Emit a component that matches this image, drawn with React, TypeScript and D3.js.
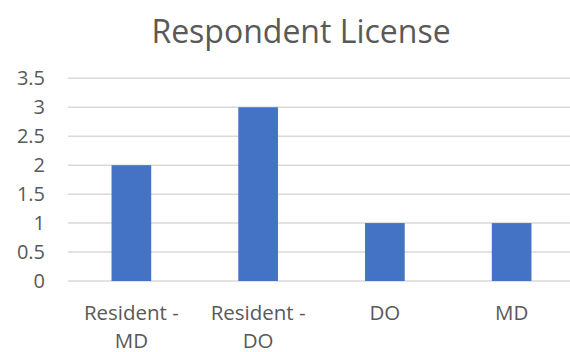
import React from "react";
import * as d3 from "d3";

const categories: string[][] = [["Resident -", "MD"], ["Resident -", "DO"], ["DO"], ["MD"]];
const values: number[] = [2, 3, 1, 1];
const yTicks: number[] = [0, 0.5, 1, 1.5, 2, 2.5, 3, 3.5];
const title = "Respondent License";

const W = 570;
const H = 352;
const FONT = "'Open Sans', sans-serif";
const TEXT = "#595959";

export default function App() {
  const keys = categories.map((c) => c.join(" "));
  const x = d3.scaleBand<string>().domain(keys).range([68, 575]).paddingInner(0.687).paddingOuter(0.3435);
  const y = d3.scaleLinear().domain([0, 3.5]).range([281, 78.3]);
  return (
    <svg width={W} height={H} style={{ position: "absolute", left: 0, top: 0, background: "#fff" }}>
      <text x={301} y={43} textAnchor="middle" fontFamily={FONT} fontSize={32} fill={TEXT}>
        {title}
      </text>
      {yTicks.map((t) => (
        <g key={t}>
          <line x1={68} x2={570} y1={y(t)} y2={y(t)} stroke="#d9d9d9" strokeWidth={1.5} />
          <text x={45} y={y(t)} dy="0.35em" textAnchor="end" fontFamily={FONT} fontSize={20} fill={TEXT}>
            {t}
          </text>
        </g>
      ))}
      {values.map((v, i) => (
        <rect key={i} x={x(keys[i])} width={x.bandwidth()} y={y(v)} height={y(0) - y(v)} fill="#4472C4" />
      ))}
      {categories.map((lines, i) => (
        <text key={i} textAnchor="middle" fontFamily={FONT} fontSize={20.5} fill={TEXT}>
          {lines.map((l, j) => (
            <tspan key={j} x={(x(keys[i]) as number) + x.bandwidth() / 2} y={320 + j * 27.5}>
              {l}
            </tspan>
          ))}
        </text>
      ))}
    </svg>
  );
}
